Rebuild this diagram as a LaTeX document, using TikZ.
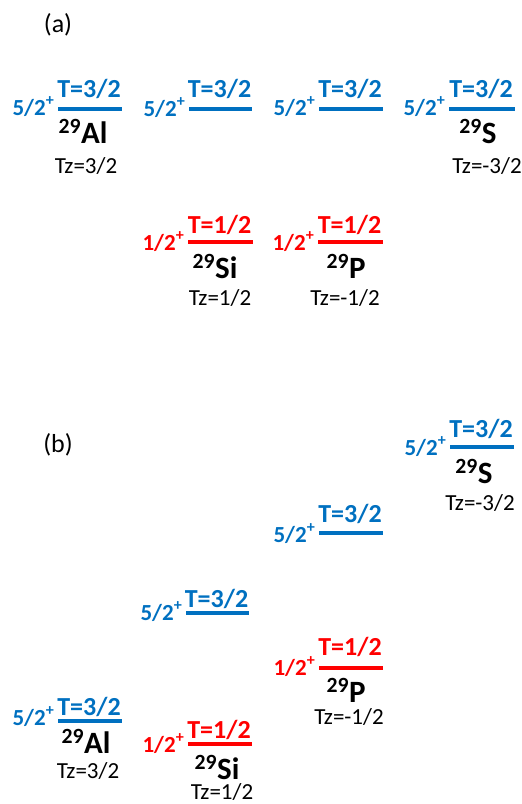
\documentclass[tikz,border=0pt]{standalone}
\usepackage{fontspec}
\setmainfont{Carlito}
\definecolor{lvlblue}{RGB}{0,112,192}
\definecolor{lvlred}{RGB}{255,0,0}
\tikzset{
  lvlline/.style={line width=3.6pt},
  tlab/.style={anchor=base,inner sep=0pt,font=\fontsize{26}{26}\selectfont\bfseries},
  spinlab/.style={anchor=base east,inner sep=0pt,font=\fontsize{23}{23}\selectfont\bfseries},
  nuclab/.style={anchor=base,inner sep=0pt,font=\fontsize{31}{31}\selectfont\bfseries},
  tzlab/.style={anchor=base,inner sep=0pt,font=\fontsize{23}{23}\selectfont},
  panellab/.style={inner sep=0pt,font=\fontsize{26}{26}\selectfont}
}
% name, x1, x2, y, colour, spin, T, T-offset, spin-offset
\newcommand\mylvl[9]{%
  \draw[lvlline,#5] (#2,#4) coordinate (#1L) -- (#3,#4) coordinate (#1R);
  \node[tlab,text=#5] (#1T) at ({(#2+#3)/2-1},{#4+#8}) {#7};
  \node[spinlab,text=#5] (#1J) at ({#2-3.5},{#4+#9}) {#6};
}
\newcommand\nuc[2]{\textsuperscript{#1}#2}
\begin{document}
\begin{tikzpicture}[x=1pt,y=-1pt]
\useasboundingbox (0,0) rectangle (522,804);
% panel labels
\node[panellab] (pa) at (58,25) {(a)};
\node[panellab] (pb) at (58,445) {(b)};

% ----- panel (a)
\mylvl{alA}{58}{122}{109}{lvlblue}{5/2\textsuperscript{+}}{T=3/2}{-12}{6}
\mylvl{aTwo}{189}{252}{109}{lvlblue}{5/2\textsuperscript{+}}{T=3/2}{-12}{7}
\mylvl{aThree}{319}{383}{109}{lvlblue}{5/2\textsuperscript{+}}{T=3/2}{-12}{6}
\mylvl{sA}{449}{515}{109}{lvlblue}{5/2\textsuperscript{+}}{T=3/2}{-12}{6}
\mylvl{siA}{188}{253}{242}{lvlred}{1/2\textsuperscript{+}}{T=1/2}{-9}{8}
\mylvl{pA}{318}{383}{242}{lvlred}{1/2\textsuperscript{+}}{T=1/2}{-9}{8}

\node[nuclab] (alAn) at (83,143) {\nuc{29}{Al}};
\node[tzlab] (alAz) at (86,173) {Tz=3/2};
\node[nuclab] (sAn) at (478,143) {\nuc{29}{S}};
\node[tzlab] (sAz) at (487,173) {Tz=-3/2};
\node[nuclab] (siAn) at (215,278) {\nuc{29}{Si}};
\node[tzlab] (siAz) at (220,305) {Tz=1/2};
\node[nuclab] (pAn) at (346,278) {\nuc{29}{P}};
\node[tzlab] (pAz) at (345,305) {Tz=-1/2};

% ----- panel (b)
\mylvl{sB}{450}{514}{447}{lvlblue}{5/2\textsuperscript{+}}{T=3/2}{-10}{8}
\mylvl{pBfive}{319}{383}{533}{lvlblue}{5/2\textsuperscript{+}}{T=3/2}{-11}{9}
\mylvl{siBfive}{186}{249}{613}{lvlblue}{5/2\textsuperscript{+}}{T=3/2}{-6}{7}
\mylvl{pBone}{319}{383}{668}{lvlred}{1/2\textsuperscript{+}}{T=1/2}{-13}{7}
\mylvl{alB}{58}{122}{721}{lvlblue}{5/2\textsuperscript{+}}{T=3/2}{-6}{4}
\mylvl{siBone}{188}{252}{744}{lvlred}{1/2\textsuperscript{+}}{T=1/2}{-6}{8}

\node[nuclab] (sBn) at (474,483) {\nuc{29}{S}};
\node[tzlab] (sBz) at (480,510) {Tz=-3/2};
\node[nuclab] (pBn) at (346,702) {\nuc{29}{P}};
\node[tzlab] (pBz) at (349,724) {Tz=-1/2};
\node[nuclab] (alBn) at (86,753) {\nuc{29}{Al}};
\node[tzlab] (alBz) at (88,778) {Tz=3/2};
\node[nuclab] (siBn) at (217,779) {\nuc{29}{Si}};
\node[tzlab] (siBz) at (222,799) {Tz=1/2};
\end{tikzpicture}
\end{document}
